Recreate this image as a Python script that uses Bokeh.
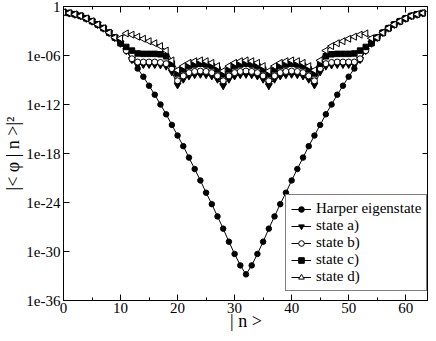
import numpy as np
from bokeh.plotting import figure
from bokeh.models import (Range1d, FixedTicker, SingleIntervalTicker, LinearAxis, LogAxis,
                          Legend, LegendItem, ColumnDataSource)
from bokeh.embed import file_html
from bokeh.resources import INLINE

# ---------------- data (log10 of |<phi|n>|^2) ----------------
n_vals = list(range(64))

harper_log10 = [-0.70, -0.80, -0.95, -1.15, -1.45, -1.80, -2.20, -2.65, -3.20, -3.80,
                -4.50, -5.40, -6.50, -7.60, -8.60, -9.70, -10.8, -12.0, -13.2, -14.5,
                -15.8, -17.1, -18.5, -19.9, -21.3, -22.8, -24.2, -25.7, -27.2, -28.8,
                -30.3, -31.7, -32.8, -31.7, -30.3, -28.8, -27.2, -25.7, -24.2, -22.8,
                -21.3, -19.9, -18.5, -17.1, -15.8, -14.5, -13.2, -12.0, -10.8, -9.70,
                -8.60, -7.60, -6.50, -5.40, -4.50, -3.80, -3.20, -2.65, -2.20, -1.80,
                -1.45, -1.15, -0.95, -0.80]

state_a_log10 = [-0.70, -0.80, -0.95, -1.15, -1.45, -1.80, -2.20, -2.65, -3.20, -3.80,
                 -4.50, -5.40, -6.50, -7.10, -7.10, -7.10, -7.10, -7.15, -7.30, -8.00,
                 -9.60, -8.90, -8.50, -8.35, -8.30, -8.35, -8.50, -8.90, -9.70, -8.90,
                 -8.50, -8.35, -8.30, -8.35, -8.50, -8.90, -9.70, -8.90, -8.50, -8.35,
                 -8.30, -8.35, -8.50, -8.90, -9.60, -8.00, -7.30, -7.15, -7.10, -7.10,
                 -7.10, -7.10, -6.50, -5.40, -4.50, -3.80, -3.20, -2.65, -2.20, -1.80,
                 -1.45, -1.15, -0.95, -0.80]

state_b_log10 = [-0.70, -0.80, -0.95, -1.15, -1.45, -1.80, -2.20, -2.65, -3.20, -3.80,
                 -4.50, -5.40, -6.40, -6.80, -6.80, -6.80, -6.80, -6.85, -7.00, -7.60,
                 -9.10, -8.50, -8.10, -7.95, -7.90, -7.95, -8.10, -8.50, -9.10, -8.50,
                 -8.10, -7.95, -7.90, -7.95, -8.10, -8.50, -9.10, -8.50, -8.10, -7.95,
                 -7.90, -7.95, -8.10, -8.50, -9.10, -7.60, -7.00, -6.85, -6.80, -6.80,
                 -6.80, -6.80, -6.40, -5.40, -4.50, -3.80, -3.20, -2.65, -2.20, -1.80,
                 -1.45, -1.15, -0.95, -0.80]

state_c_log10 = [-0.70, -0.80, -0.95, -1.15, -1.45, -1.80, -2.20, -2.65, -3.20, -3.80,
                 -4.50, -4.95, -5.40, -5.75, -5.80, -5.80, -5.80, -5.85, -6.10, -7.00,
                 -8.20, -7.70, -7.30, -7.10, -7.00, -7.10, -7.30, -7.70, -8.30, -7.70,
                 -7.30, -7.10, -7.00, -7.10, -7.30, -7.70, -8.30, -7.70, -7.30, -7.10,
                 -7.00, -7.10, -7.30, -7.70, -8.20, -7.00, -6.10, -5.85, -5.80, -5.80,
                 -5.80, -5.75, -5.40, -4.95, -4.50, -3.80, -3.20, -2.65, -2.20, -1.80,
                 -1.45, -1.15, -0.95, -0.80]

state_d_log10 = [-0.70, -0.80, -0.95, -1.15, -1.45, -1.80, -2.20, -2.65, -3.20, -3.80,
                 -3.90, -3.30, -3.45, -3.70, -3.95, -4.25, -4.50, -4.85, -5.40, -6.60,
                 -7.80, -7.30, -6.90, -6.70, -6.60, -6.70, -6.90, -7.30, -7.90, -7.30,
                 -6.90, -6.70, -6.60, -6.70, -6.90, -7.30, -7.90, -7.30, -6.90, -6.70,
                 -6.60, -6.70, -6.90, -7.30, -7.80, -6.60, -5.40, -4.85, -4.50, -4.25,
                 -3.95, -3.70, -3.45, -3.30, -3.90, -3.80, -3.20, -2.65, -2.20, -1.80,
                 -1.45, -1.15, -0.95, -0.80]

series_labels = ["Harper eigenstate", "state a)", "state b)", "state c)", "state d)"]
x_title = "| n >"
y_title = "|< φ | n >|²"

x_major_step = 10
y_tick_values = [1e-36, 1e-30, 1e-24, 1e-18, 1e-12, 1e-06, 1.0]
y_tick_labels = ["1e-36", "1e-30", "1e-24", "1e-18", "1e-12", "1e-06", "1"]

FONT = "Liberation Serif"

# ---------------- figure ----------------
p = figure(width=428, height=333, output_backend="svg", toolbar_location=None,
           y_axis_type="log", x_range=Range1d(0, 64), y_range=Range1d(1e-36, 1),
           title=None, min_border_left=54, min_border_right=0, min_border_top=6,
           min_border_bottom=0, background_fill_color="white",
           border_fill_color="white")
p.grid.visible = False
p.outline_line_color = "black"
p.outline_line_width = 1


def style_axis(ax, labels=True):
    ax.axis_line_color = "black"
    ax.major_tick_in = 6
    ax.major_tick_out = 0
    ax.minor_tick_in = 3
    ax.minor_tick_out = 0
    ax.major_tick_line_color = "black"
    ax.minor_tick_line_color = "black"
    ax.major_label_text_font = FONT
    ax.axis_label_text_font = FONT
    ax.axis_label_text_font_style = "normal"
    ax.axis_label_text_color = "black"
    if labels:
        ax.major_label_text_color = "black"
        ax.major_label_text_font_size = "15px"
        ax.major_label_standoff = 3
    else:
        ax.axis_label = None
        ax.axis_label_standoff = 0
        ax.major_label_text_color = None
        ax.major_label_text_font_size = "1px"
        ax.major_label_standoff = 0


xb = p.xaxis[0]
xb.ticker = SingleIntervalTicker(interval=x_major_step, num_minor_ticks=2)
style_axis(xb)
xb.major_label_standoff = 2
xb.axis_label = x_title
xb.axis_label_text_font_size = "18px"
xb.axis_label_standoff = -5

yl = p.yaxis[0]
yl.ticker = FixedTicker(ticks=y_tick_values)
yl.major_label_overrides = dict(zip(y_tick_values, y_tick_labels))
style_axis(yl)
yl.axis_label = y_title
yl.axis_label_text_font_size = "18px"
yl.axis_label_standoff = 0

xt = LinearAxis(ticker=SingleIntervalTicker(interval=x_major_step, num_minor_ticks=2))
style_axis(xt, labels=False)
p.add_layout(xt, "above")

yr = LogAxis(ticker=FixedTicker(ticks=y_tick_values))
style_axis(yr, labels=False)
p.add_layout(yr, "right")

# ---------------- series ----------------
specs = [
    (harper_log10, dict(marker="circle", size=5.5, fill_color="black")),
    (state_a_log10, dict(marker="inverted_triangle", size=7, fill_color="black")),
    (state_b_log10, dict(marker="circle", size=6, fill_color="white")),
    (state_c_log10, dict(marker="square", size=5.5, fill_color="black")),
    (state_d_log10, dict(marker="triangle", size=7, fill_color="white", angle=np.pi / 2)),
]

items = []
for (vals, mk), label in zip(specs, series_labels):
    src = ColumnDataSource(dict(x=n_vals, y=[10.0 ** v for v in vals]))
    lr = p.line("x", "y", source=src, line_color="black", line_width=1)
    sr = p.scatter("x", "y", source=src, line_color="black", line_width=1, **mk)
    items.append(LegendItem(label=label, renderers=[lr, sr]))

legend = Legend(items=items, location=(222, 9))
legend.border_line_color = "black"
legend.border_line_width = 1
legend.background_fill_color = "white"
legend.background_fill_alpha = 1
legend.label_text_font = FONT
legend.label_text_font_size = "15px"
legend.label_text_color = "black"
legend.glyph_width = 20
legend.glyph_height = 14
legend.label_height = 14
legend.label_standoff = 5
legend.spacing = 0
legend.padding = 5
legend.margin = 0
p.add_layout(legend)

open("out.html", "w").write(file_html(p, INLINE))
